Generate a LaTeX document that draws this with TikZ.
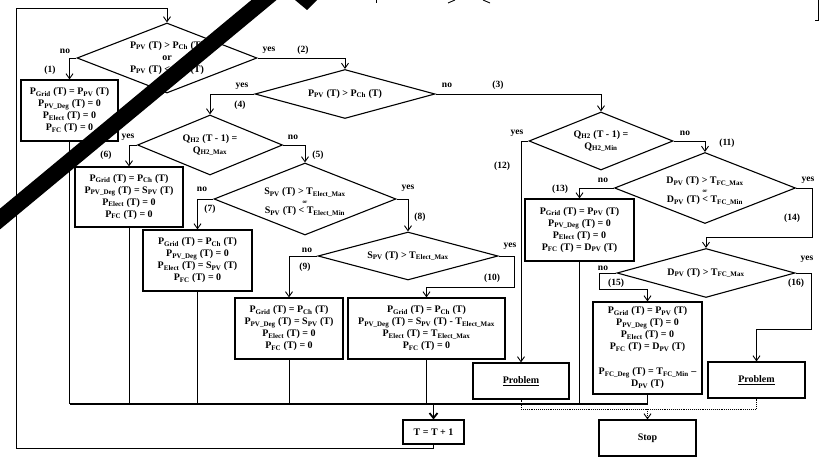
\documentclass[tikz,border=0pt]{standalone}
\usepackage{fontspec}
\setmainfont{Liberation Serif}
\usetikzlibrary{shapes.geometric,arrows.meta}
\newcommand\xs[1]{\textsubscript{#1}}
\begin{document}
\begin{tikzpicture}[x=1pt,y=-1pt,
  every node/.style={font=\fontsize{10}{12}\selectfont\bfseries},
  sz/.style 2 args={minimum width=#1pt,minimum height=#2pt},
  box/.style={draw,line width=1.1pt,inner sep=0pt,align=center},
  dia/.style={draw,diamond,line width=1.1pt,inner sep=0pt},
  txt/.style={align=center,inner sep=0pt},
  lbl/.style={inner sep=0pt,font=\fontsize{9.5}{11}\selectfont\bfseries},
  ln/.style={line width=0.9pt},
  arr/.style={ln,-{Straight Barb[length=5pt,width=7pt]}},
  dot/.style={line width=0.9pt,densely dotted},
]
\useasboundingbox (0,0) rectangle (827,462);

% diamonds
\node[dia,sz={180}{70}] (d1) at (167,58) {};
\node[txt] (d1t) at (d1) {P\xs{PV} (T) > P\xs{Ch} (T)\\or\\P\xs{PV} (T) < P\xs{Ch} (T)};
\node[dia,sz={180}{49}] (d2) at (345,94) {};
\node[txt] (d2t) at (d2) {P\xs{PV} (T) > P\xs{Ch} (T)};
\node[dia,sz={145}{60}] (d3) at (210,145) {};
\node[txt] (d3t) at (d3) {Q\xs{H2} (T - 1) =\\Q\xs{H2\_Max}};
\node[dia,sz={144}{58}] (d4) at (601,141) {};
\node[txt] (d4t) at (d4) {Q\xs{H2} (T - 1) =\\Q\xs{H2\_Min}};
\node[dia,sz={182}{72}] (d5) at (305,199) {};
\node[txt] (d5t) at (305,202) {S\xs{PV} (T) > T\xs{Elect\_Max}\\[-3pt]{\fontsize{5}{5}\selectfont or}\\[-2pt]S\xs{PV} (T) < T\xs{Elect\_Min}};
\node[dia,sz={180}{48}] (d8) at (408,256) {};
\node[txt] (d8t) at (d8) {S\xs{PV} (T) > T\xs{Elect\_Max}};
\node[dia,sz={181}{71}] (d11) at (705,188) {};
\node[txt] (d11t) at (705,191) {D\xs{PV} (T) > T\xs{FC\_Max}\\[-3pt]{\fontsize{5}{5}\selectfont or}\\[-2pt]D\xs{PV} (T) < T\xs{FC\_Min}};
\node[dia,sz={178}{49}] (d16) at (706,273) {};
\node[txt] (d16t) at (d16) {D\xs{PV} (T) > T\xs{FC\_Max}};

% boxes
\node[box,sz={97}{61}] (b1) at (69.5,110.5) {P\xs{Grid} (T) = P\xs{PV} (T)\\P\xs{PV\_Deg} (T) = 0\\P\xs{Elect} (T) = 0\\P\xs{FC} (T) = 0};
\node[box,sz={108}{60}] (b6) at (129,197) {P\xs{Grid} (T) = P\xs{Ch} (T)\\P\xs{PV\_Deg} (T) = S\xs{PV} (T)\\P\xs{Elect} (T) = 0\\P\xs{FC} (T) = 0};
\node[box,sz={109}{61}] (b7) at (197.5,260.5) {P\xs{Grid} (T) = P\xs{Ch} (T)\\P\xs{PV\_Deg} (T) = 0\\P\xs{Elect} (T) = S\xs{PV} (T)\\P\xs{FC} (T) = 0};
\node[box,sz={108}{61}] (b9) at (289,328.5) {P\xs{Grid} (T) = P\xs{Ch} (T)\\P\xs{PV\_Deg} (T) = S\xs{PV} (T)\\P\xs{Elect} (T) = 0\\P\xs{FC} (T) = 0};
\node[box,sz={157}{61}] (b10) at (426.5,328.5) {P\xs{Grid} (T) = P\xs{Ch} (T)\\P\xs{PV\_Deg} (T) = S\xs{PV} (T) - T\xs{Elect\_Max}\\P\xs{Elect} (T) = T\xs{Elect\_Max}\\P\xs{FC} (T) = 0};
\node[box,sz={109}{62}] (b13) at (579.5,230) {P\xs{Grid} (T) = P\xs{PV} (T)\\P\xs{PV\_Deg} (T) = 0\\P\xs{Elect} (T) = 0\\P\xs{FC} (T) = D\xs{PV} (T)};
\node[box,sz={109}{92}] (b15) at (647.5,348) {P\xs{Grid} (T) = P\xs{PV} (T)\\P\xs{PV\_Deg} (T) = 0\\P\xs{Elect} (T) = 0\\P\xs{FC} (T) = D\xs{PV} (T)\\[13pt]P\xs{FC\_Deg} (T) = T\xs{FC\_Min} –\\D\xs{PV} (T)};
\node[box,sz={96}{36}] (p1) at (521,381) {\underline{Problem}};
\node[box,sz={97}{36}] (p2) at (756.5,380) {\underline{Problem}};
\node[box,sz={97}{36}] (stop) at (647.5,438) {Stop};
\node[box,sz={61}{24}] (tt) at (433.5,432) {T = T + 1};

% connectors
\draw[arr] (tt.south) -- ++(0,4) -| (16,8) -| (d1.north);
\draw[arr] (d1.west) -| (b1.north);
\draw[arr] (d1.east) -| (d2.north);
\draw[arr] (d2.west) -| (d3.north);
\draw[arr] (d2.east) -| (d4.north);
\draw[arr] (d3.west) -| (b6.north);
\draw[arr] (d3.east) -| (d5.north);
\draw[arr] (d5.west) -| (b7.north);
\draw[arr] (d5.east) -| (d8.north);
\draw[arr] (d8.west) -| (b9.north);
\draw[arr] (d8.east) -| (514,287) -| (b10.north);
\draw[arr] (d4.west) -| (p1.north);
\draw[arr] (d4.east) -| (d11.north);
\draw[arr] (d11.west) -| (b13.north);
\draw[arr] (d11.east) -| (812,237) -| (d16.north);
\draw[arr] (d16.west) -| (599,289) -| (b15.north);
\draw[arr] (d16.east) -| (811,329) -| (p2.north);

\coordinate (m) at (433.5,404);
\foreach \b in {b1,b6,b7,b9,b10,b13,b15} \draw[ln] (\b.south) -- (\b.south |- m);
\draw[line width=1.4pt] (b1.south |- m) -- (b15.south |- m);
\draw[line width=1.8pt,-{Straight Barb[length=5pt,width=8pt]}] (m) -- (tt.north);

\coordinate (q) at (647.5,409);
\draw[dot] (p1.south) |- (q) -| (p2.south);
\draw[dot,-{Straight Barb[length=5pt,width=7pt]}] (q) -- (stop.north);

% labels
\node[lbl] (l1) at (65,51) {no};
\node[lbl] (l2) at (50,70) {(1)};
\node[lbl] (l3) at (269,50) {yes};
\node[lbl] (l4) at (303,50) {(2)};
\node[lbl] (l5) at (242,86) {yes};
\node[lbl] (l6) at (240,105) {(4)};
\node[lbl] (l7) at (447,85) {no};
\node[lbl] (l8) at (498,85) {(3)};
\node[lbl] (l9) at (128,137) {yes};
\node[lbl] (l10) at (106,155) {(6)};
\node[lbl] (l11) at (293,137) {no};
\node[lbl] (l12) at (318,155) {(5)};
\node[lbl] (l13) at (202,189) {no};
\node[lbl] (l14) at (210,209) {(7)};
\node[lbl] (l15) at (408,188) {yes};
\node[lbl] (l16) at (420,217) {(8)};
\node[lbl] (l17) at (307,250) {no};
\node[lbl] (l18) at (305,267) {(9)};
\node[lbl] (l19) at (510,246) {yes};
\node[lbl] (l20) at (492,278) {(10)};
\node[lbl] (l21) at (517,133) {yes};
\node[lbl] (l22) at (502,166) {(12)};
\node[lbl] (l23) at (685,133) {no};
\node[lbl] (l24) at (727,143) {(11)};
\node[lbl] (l25) at (603,180) {no};
\node[lbl] (l26) at (560,189) {(13)};
\node[lbl] (l27) at (808,180) {yes};
\node[lbl] (l28) at (792,218) {(14)};
\node[lbl] (l29) at (603,268) {no};
\node[lbl] (l30) at (616,283) {(15)};
\node[lbl] (l31) at (807,259) {yes};
\node[lbl] (l32) at (796,283) {(16)};

% marks over the picture
\begin{scope}
\clip (0,0) rectangle (827,462);
\draw[line width=16pt] (-20,235.6) -- (284,-16.6);
\fill (295,0) -- (317,0) -- (307,10) -- cycle;
\draw[ln] (376,0) -- (376,3);
\draw[ln] (448,3) -- (455,0);
\draw[ln] (483,0) -- (490,3);
\draw[ln] (818,0) -- (818,20) -- (815,20);
\end{scope}
\end{tikzpicture}
\end{document}
